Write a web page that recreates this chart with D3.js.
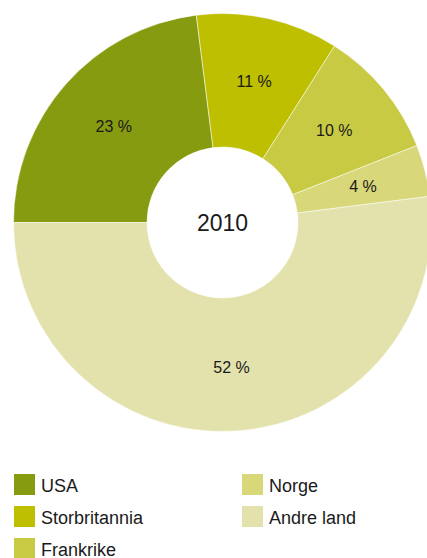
<!DOCTYPE html>
<html>
<head>
<meta charset="utf-8">
<script src="https://cdn.jsdelivr.net/npm/d3@7"></script>
<style>
  body { margin: 0; background: #fff; }
  svg { display: block; font-family: "Liberation Sans", Arial, sans-serif; }
</style>
</head>
<body>
<div id="main"></div>
<script>
const categories = ["USA", "Storbritannia", "Frankrike", "Norge", "Andre land"];
const values = [23, 11, 10, 4, 52];
const colors = ["#869b0f", "#bdbf00", "#c9ca44", "#d8d77a", "#e3e2ac"];
const centerLabel = "2010";

const width = 427;
const height = 558;
const cx = 222.5, cy = 222.5;
const outerR = 209, innerR = 75.5;

const svg = d3.create("svg")
    .attr("width", width)
    .attr("height", height)
    .attr("viewBox", [0, 0, width, height]);

const color = d3.scaleOrdinal()
    .domain(categories)
    .range(colors);

const pie = d3.pie()
    .sort(null)
    .value(d => d.value)
    .startAngle(-Math.PI / 2)
    .endAngle(Math.PI * 1.5);

const data = categories.map((c, i) => ({name: c, value: values[i]}));
const arcs = pie(data);

const arc = d3.arc().innerRadius(innerR).outerRadius(outerR);
const labelArc = d3.arc().innerRadius(145).outerRadius(145);

const g = svg.append("g")
    .attr("transform", `translate(${cx},${cy})`);

g.selectAll("path")
    .data(arcs)
    .join("path")
    .attr("fill", d => color(d.data.name))
    .attr("stroke", "#fff")
    .attr("stroke-width", 0.5)
    .attr("d", arc);

g.selectAll("text.val")
    .data(arcs)
    .join("text")
    .attr("class", "val")
    .attr("transform", d => `translate(${labelArc.centroid(d)})`)
    .attr("text-anchor", "middle")
    .attr("dy", "0.35em")
    .attr("font-size", 16)
    .attr("fill", "#1a1a1a")
    .text(d => `${d.data.value} %`);

g.append("text")
    .attr("text-anchor", "middle")
    .attr("dy", "0.35em")
    .attr("font-size", 23)
    .attr("fill", "#1a1a1a")
    .text(centerLabel);

// legend, 3 rows per column
const legend = svg.append("g");
const item = legend.selectAll("g")
    .data(categories)
    .join("g")
    .attr("transform", (d, i) => `translate(${14 + Math.floor(i / 3) * 228},${474 + (i % 3) * 32})`);

item.append("rect")
    .attr("width", 21)
    .attr("height", 21)
    .attr("fill", d => color(d));

item.append("text")
    .attr("x", 27)
    .attr("y", 18)
    .attr("font-size", 18)
    .attr("fill", "#1a1a1a")
    .text(d => d);

d3.select("#main").append(() => svg.node());
</script>
</body>
</html>
